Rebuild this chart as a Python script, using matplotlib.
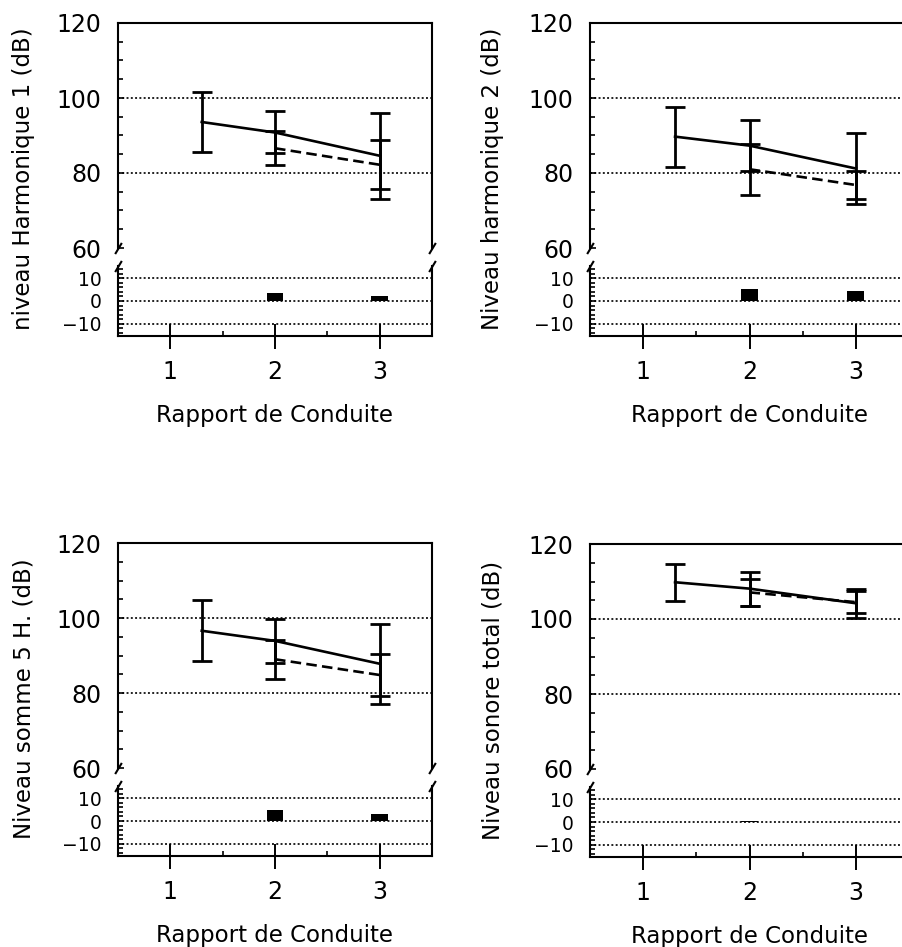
import numpy as np
import matplotlib
matplotlib.use("Agg")
import matplotlib.pyplot as plt
from matplotlib.ticker import MultipleLocator, FixedLocator

plt.rcParams['font.family'] = ['DejaVu Sans']
plt.rcParams['font.size'] = 17

# data
x_solid = [1.3, 2, 3]
x_dashed = [2, 3]

h1_solid = [93.6, 90.8, 84.6]
h1_solid_err = [8.0, 5.6, 11.5]
h1_dashed = [86.6, 82.2]
h1_dashed_err = [4.6, 6.5]
h1_diff = [3.7, 2.3]

h2_solid = [89.7, 87.3, 81.2]
h2_solid_err = [8.0, 6.7, 9.5]
h2_dashed = [81.0, 76.8]
h2_dashed_err = [6.8, 3.8]
h2_diff = [5.5, 4.5]

s5_solid = [96.6, 93.9, 87.8]
s5_solid_err = [8.1, 5.9, 10.6]
s5_dashed = [89.0, 84.8]
s5_dashed_err = [5.2, 5.6]
s5_diff = [4.9, 3.0]

tot_solid = [109.8, 108.1, 104.2]
tot_solid_err = [5.0, 4.5, 3.9]
tot_dashed = [107.1, 104.5]
tot_dashed_err = [3.7, 3.0]
tot_diff = [0.5, 0.0]

ylabels = ['niveau Harmonique 1 (dB)', 'Niveau harmonique 2 (dB)',
           'Niveau somme 5 H. (dB)', 'Niveau sonore total (dB)']
xlabel = 'Rapport de Conduite'
main_ticks = [60, 80, 100, 120]
main_grid = [80, 100]
low_ticks = [-10, 0, 10]
low_grid = [-10, 0, 10]

W, H = 902, 947
fig = plt.figure(figsize=(W / 100, H / 100), dpi=100)


def box(left, top, width, height):
    return [left / W, 1 - (top + height) / H, width / W, height / H]


def grid(ax, levels):
    for v in levels:
        ax.axhline(v, color='#222222', lw=1.4, ls=(0, (1, 1.2)), zorder=1)


def panel(left, top, width, solid, solid_err, dashed, dashed_err, diff, ylab):
    main_h = 225
    ax = fig.add_axes(box(left, top, width, main_h))
    low = fig.add_axes(box(left, top + 243, width, 70))

    # main part
    grid(ax, main_grid)
    ax.errorbar(x_solid, solid, yerr=solid_err, fmt='-', color='black', lw=1.9,
                elinewidth=2.0, capsize=7, capthick=2.0, zorder=3)
    ax.errorbar(x_dashed, dashed, yerr=dashed_err, fmt='-', color='black', lw=1.9,
                dashes=(4, 2), elinewidth=2.0, capsize=7, capthick=2.0, zorder=3)
    ax.set_xlim(0.5, 3.5)
    ax.set_ylim(60, 120)
    ax.spines['bottom'].set_visible(False)
    for s in ['top', 'left', 'right']:
        ax.spines[s].set_linewidth(1.5)
    ax.set_xticks([])
    ax.yaxis.set_major_locator(FixedLocator(main_ticks))
    ax.yaxis.set_minor_locator(MultipleLocator(5))
    ax.tick_params(axis='y', which='major', direction='in', length=4, width=1.2, pad=12)
    ax.tick_params(axis='y', which='minor', direction='in', length=3.5, width=1.2)

    # lower part
    grid(low, low_grid)
    low.bar(x_dashed, diff, width=0.16, color='black', zorder=3)
    low.set_xlim(0.5, 3.5)
    low.set_ylim(-15.5, 15.5)
    low.spines['top'].set_visible(False)
    for s in ['bottom', 'left', 'right']:
        low.spines[s].set_linewidth(1.5)
    low.yaxis.set_major_locator(FixedLocator(low_ticks))
    low.yaxis.set_minor_locator(MultipleLocator(2))
    low.xaxis.set_major_locator(FixedLocator([1, 2, 3]))
    low.xaxis.set_minor_locator(FixedLocator([1.5, 2.5]))
    low.tick_params(axis='y', which='major', direction='in', length=4, width=1.2, pad=12,
                    labelsize=13.5)
    low.tick_params(axis='y', which='minor', direction='in', length=3.5, width=1.2)
    low.tick_params(axis='x', which='major', direction='inout', length=18, width=1.4, pad=8)
    low.tick_params(axis='x', which='minor', direction='in', length=3.5, width=1.2)

    # break marks
    kw = dict(marker=[(-0.6, -1), (0.6, 1)], markersize=8, linestyle='none',
              color='black', mec='black', mew=1.5, clip_on=False)
    ax.plot([0, 1], [0, 0], transform=ax.transAxes, **kw)
    low.plot([0, 1], [1, 1], transform=low.transAxes, **kw)

    # labels
    cx = left + (2 - 0.5) / 3 * width
    fig.text(cx / W, 1 - (top + 392) / H, xlabel, ha='center', va='center', fontsize=16.5)
    lx = 24 if left < 300 else 493
    fig.text(lx / W, 1 - (top + 156) / H, ylab, rotation=90, ha='center', va='center',
             fontsize=16.5)


panel(118, 23, 314, h1_solid, h1_solid_err, h1_dashed, h1_dashed_err, h1_diff, ylabels[0])
panel(590, 23, 319, h2_solid, h2_solid_err, h2_dashed, h2_dashed_err, h2_diff, ylabels[1])
panel(118, 543, 314, s5_solid, s5_solid_err, s5_dashed, s5_dashed_err, s5_diff, ylabels[2])
panel(590, 544, 319, tot_solid, tot_solid_err, tot_dashed, tot_dashed_err, tot_diff, ylabels[3])

fig.savefig('out.png', dpi=100)
